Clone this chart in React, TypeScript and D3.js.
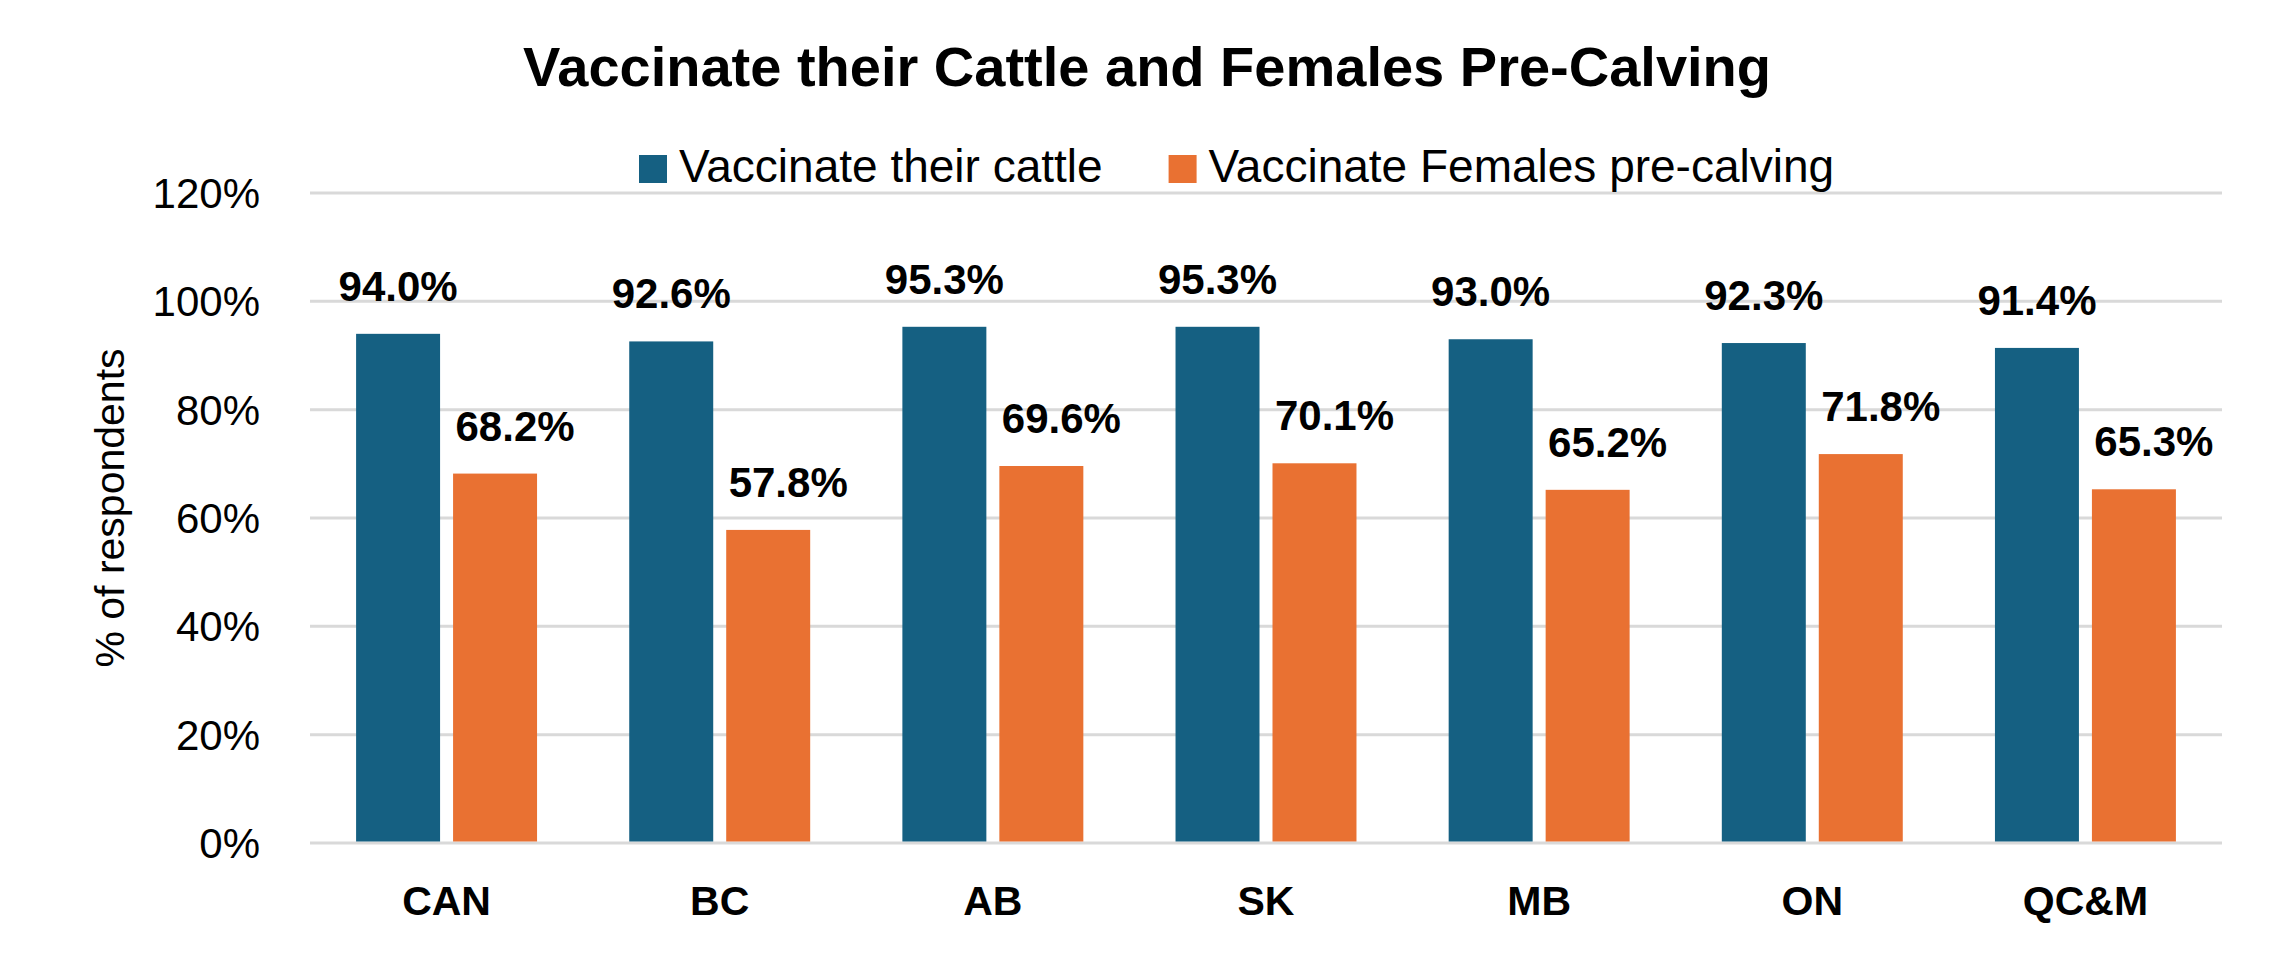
import * as React from 'react';
import * as d3 from 'd3';

const categories: string[] = ['CAN', 'BC', 'AB', 'SK', 'MB', 'ON', 'QC&M'];
const cattle: number[] = [94.0, 92.6, 95.3, 95.3, 93.0, 92.3, 91.4];
const females: number[] = [68.2, 57.8, 69.6, 70.1, 65.2, 71.8, 65.3];
const seriesNames: string[] = ['Vaccinate their cattle', 'Vaccinate Females pre-calving'];
const seriesColors: string[] = ['#156082', '#E97132'];
const yTicks: number[] = [0, 20, 40, 60, 80, 100, 120];

const FONT = '"Liberation Sans", Arial, sans-serif';

type Bar = { cat: string, series: number, value: number };

const App = () => {
    const chartRef = React.useRef<SVGSVGElement>(null);
    const dim = { width: 2273, height: 974, left: 310, right: 2222, top: 193, bottom: 843 };

    React.useEffect(() => {
        const svg = d3.select(chartRef.current);
        svg.selectAll('*').remove();

        const x0 = d3.scaleBand<string>()
            .domain(categories)
            .range([dim.left, dim.right])
            .paddingInner(0.3375)
            .paddingOuter(0.16875);
        const x1 = d3.scaleBand<number>()
            .domain([0, 1])
            .range([0, x0.bandwidth()])
            .paddingInner(0.134);
        const y = d3.scaleLinear().domain([0, 120]).range([dim.bottom, dim.top]);

        // gridlines
        svg.append('g')
            .selectAll('line')
            .data(yTicks)
            .join('line')
            .attr('x1', dim.left)
            .attr('x2', dim.right)
            .attr('y1', d => y(d))
            .attr('y2', d => y(d))
            .attr('stroke', '#d9d9d9')
            .attr('stroke-width', 3);

        // y tick labels
        svg.append('g')
            .selectAll('text')
            .data(yTicks)
            .join('text')
            .attr('x', 260)
            .attr('y', d => y(d))
            .attr('dy', '0.36em')
            .attr('text-anchor', 'end')
            .attr('font-family', FONT)
            .attr('font-size', 42)
            .attr('fill', '#000')
            .text(d => `${d}%`);

        // y title
        svg.append('text')
            .attr('transform', `translate(124, ${(dim.top + dim.bottom) / 2 - 10}) rotate(-90)`)
            .attr('text-anchor', 'middle')
            .attr('font-family', FONT)
            .attr('font-size', 41)
            .attr('fill', '#000')
            .text('% of respondents');

        const bars: Bar[] = [];
        categories.forEach((c, i) => {
            bars.push({ cat: c, series: 0, value: cattle[i] });
            bars.push({ cat: c, series: 1, value: females[i] });
        });

        svg.append('g')
            .selectAll('rect')
            .data(bars)
            .join('rect')
            .attr('x', d => x0(d.cat)! + x1(d.series)!)
            .attr('y', d => y(d.value))
            .attr('width', x1.bandwidth())
            .attr('height', d => y(0) - y(d.value) - 1.5)
            .attr('fill', d => seriesColors[d.series]);

        // data labels (orange ones sit a bit to the right, as in the original)
        svg.append('g')
            .selectAll('text')
            .data(bars)
            .join('text')
            .attr('x', d => x0(d.cat)! + x1(d.series)! + x1.bandwidth() / 2 + (d.series === 1 ? 20 : 0))
            .attr('y', d => y(d.value) - 33)
            .attr('text-anchor', 'middle')
            .attr('font-family', FONT)
            .attr('font-weight', 'bold')
            .attr('font-size', 42)
            .attr('fill', '#000')
            .text(d => `${d.value.toFixed(1)}%`);

        // x labels
        svg.append('g')
            .selectAll('text')
            .data(categories)
            .join('text')
            .attr('x', d => x0(d)! + x0.bandwidth() / 2)
            .attr('y', 915)
            .attr('text-anchor', 'middle')
            .attr('font-family', FONT)
            .attr('font-weight', 'bold')
            .attr('font-size', 41)
            .attr('fill', '#000')
            .text(d => d);

        // title
        svg.append('text')
            .attr('x', 1147)
            .attr('y', 86)
            .attr('text-anchor', 'middle')
            .attr('font-family', FONT)
            .attr('font-weight', 'bold')
            .attr('font-size', 56)
            .attr('fill', '#000')
            .text('Vaccinate their Cattle and Females Pre-Calving');

        // legend
        const legend = svg.append('g');
        let lx = 639;
        seriesNames.forEach((name, i) => {
            legend.append('rect')
                .attr('x', lx)
                .attr('y', 155)
                .attr('width', 28)
                .attr('height', 28)
                .attr('fill', seriesColors[i]);
            const t = legend.append('text')
                .attr('x', lx + 40)
                .attr('y', 182)
                .attr('font-family', FONT)
                .attr('font-size', 46)
                .attr('fill', '#000')
                .text(name);
            const w = (t.node() as SVGTextElement).getComputedTextLength();
            lx = lx + 40 + w + 66;
        });
    }, []);

    return (
        <svg ref={chartRef} width={dim.width} height={dim.height}
            style={{ position: 'absolute', left: 0, top: 0, background: '#fff' }}>
        </svg>
    );
};

export default App;
